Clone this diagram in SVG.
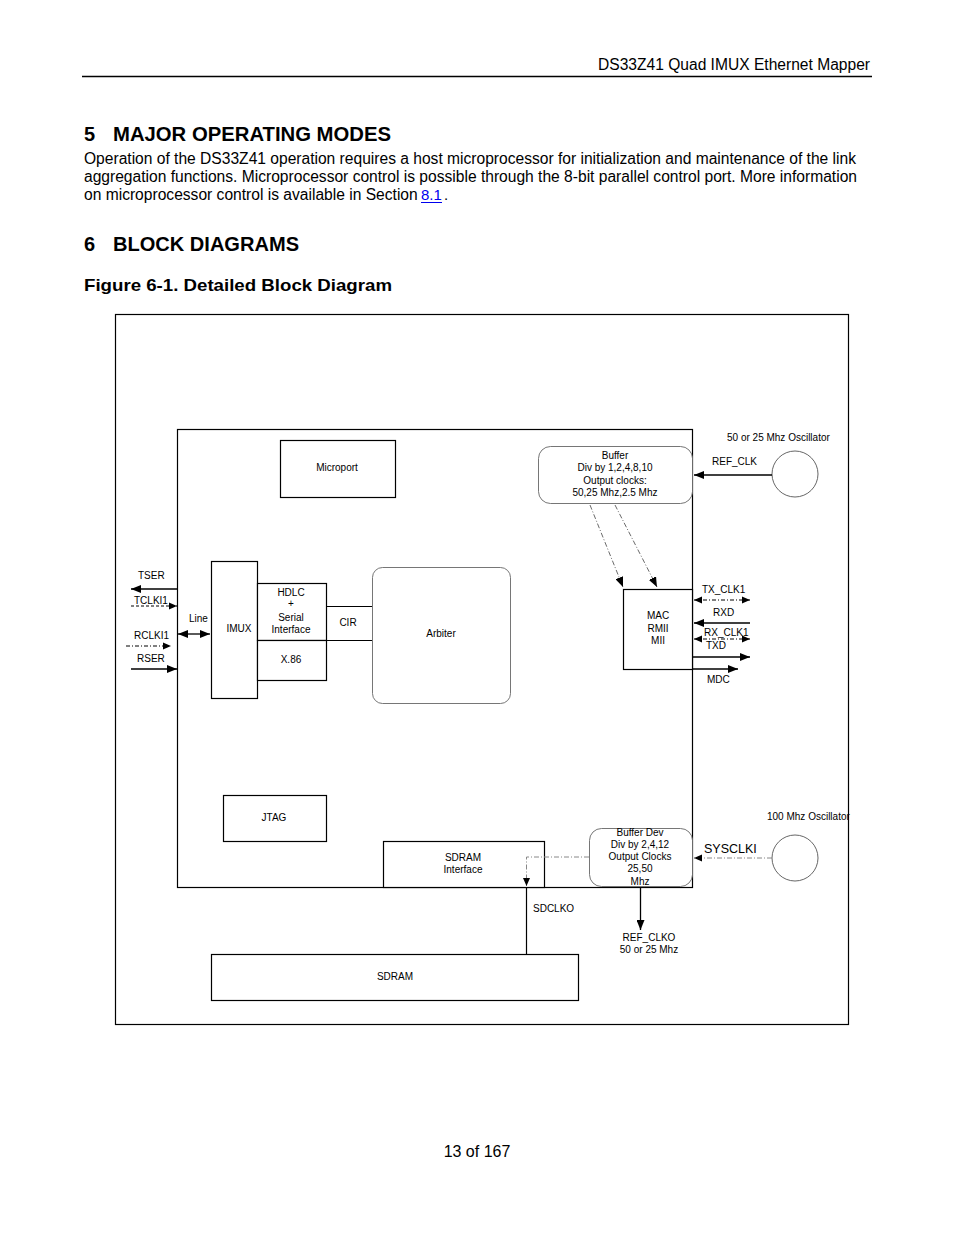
<svg xmlns="http://www.w3.org/2000/svg" width="954" height="1235" viewBox="0 0 954 1235">
<style>
.t{font-family:"Liberation Sans",Arial,sans-serif;fill:#000}
.s{font-size:10px;text-anchor:middle}
.sl{font-size:10px}
.b{fill:none;stroke:#000;stroke-width:1.2}
.w{fill:#fff;stroke:#000;stroke-width:1.2}
.r{fill:#fff;stroke:#666;stroke-width:0.9}
.ln{fill:none;stroke:#000;stroke-width:1.3}
.dd{fill:none;stroke:#000;stroke-width:1;stroke-dasharray:4 2 1 2}
.dg{fill:none;stroke:#888;stroke-width:1;stroke-dasharray:5 2 1 2}
.dm{fill:none;stroke:#444;stroke-width:0.8;stroke-dasharray:5 2 1 2}
</style>
<defs>
<marker id="ah" markerUnits="userSpaceOnUse" markerWidth="11" markerHeight="8" refX="10" refY="4" orient="auto-start-reverse"><path d="M0,0 L10,4 L0,8 Z" fill="#000"/></marker>
<marker id="as" markerUnits="userSpaceOnUse" markerWidth="9" markerHeight="8" refX="8" refY="4" orient="auto-start-reverse"><path d="M0,0.5 L8,4 L0,7.5 Z" fill="#000"/></marker>
</defs>
<rect width="954" height="1235" fill="#fff"/>
<!-- page header -->
<g id="page-header">
<text class="t" x="870" y="70" font-size="16" text-anchor="end" textLength="272" lengthAdjust="spacingAndGlyphs">DS33Z41 Quad IMUX Ethernet Mapper</text>
<line x1="82" y1="76.5" x2="872" y2="76.5" stroke="#000" stroke-width="1.3"/>
<text class="t" x="84" y="141" font-size="20" font-weight="bold">5</text>
<text class="t" x="113" y="141" font-size="20" font-weight="bold" textLength="278" lengthAdjust="spacingAndGlyphs">MAJOR OPERATING MODES</text>
<text class="t" x="84" y="164" font-size="16" textLength="772" lengthAdjust="spacingAndGlyphs">Operation of the DS33Z41 operation requires a host microprocessor for initialization and maintenance of the link</text>
<text class="t" x="84" y="182" font-size="16" textLength="773" lengthAdjust="spacingAndGlyphs">aggregation functions. Microprocessor control is possible through the 8-bit parallel control port. More information</text>
<text class="t" x="84" y="200" font-size="15.6">on microprocessor control is available in Section</text>
<text class="t" x="421" y="200" font-size="15" style="fill:#0000ee">8.1</text>
<line x1="421" y1="202.5" x2="442" y2="202.5" stroke="#0000ee" stroke-width="1"/>
<text class="t" x="444" y="200" font-size="15">.</text>
<text class="t" x="84" y="251" font-size="20" font-weight="bold">6</text>
<text class="t" x="113" y="251" font-size="20" font-weight="bold" textLength="186" lengthAdjust="spacingAndGlyphs">BLOCK DIAGRAMS</text>
<text class="t" x="84" y="291" font-size="17" font-weight="bold" textLength="308" lengthAdjust="spacingAndGlyphs">Figure 6-1. Detailed Block Diagram</text>
<text class="t" x="477" y="1157" font-size="16" text-anchor="middle">13 of 167</text>
</g>
<!-- frames -->
<g id="frame"><rect x="115.5" y="314.5" width="733" height="710" class="b"/></g>
<g id="chip"><rect x="177.5" y="429.5" width="515" height="458" class="b"/></g>
<!-- nodes -->
<g id="microport"><rect x="280.5" y="440.5" width="115" height="57" class="w"/><text class="t s" x="337" y="471">Microport</text></g>
<g id="buffer"><rect x="538.5" y="446.5" width="154" height="57" rx="12" class="r"/>
<text class="t s" x="615" y="459">Buffer</text><text class="t s" x="615" y="471">Div by 1,2,4,8,10</text><text class="t s" x="615" y="484">Output clocks:</text><text class="t s" x="615" y="496">50,25 Mhz,2.5 Mhz</text></g>
<g id="osc50"><circle cx="795" cy="474" r="23" fill="#fff" stroke="#555" stroke-width="0.9"/>
<text class="t sl" x="727" y="441">50 or 25  Mhz Oscillator</text><text class="t sl" x="712" y="465">REF_CLK</text></g>
<g id="mac"><rect x="623.5" y="589.5" width="69" height="80" class="w"/>
<text class="t s" x="658" y="619">MAC</text><text class="t s" x="658" y="632">RMII</text><text class="t s" x="658" y="644">MII</text></g>
<g id="mac-labels">
<text class="t sl" x="702" y="593">TX_CLK1</text><text class="t sl" x="713" y="616">RXD</text><text class="t sl" x="704" y="636">RX_CLK1</text><text class="t sl" x="706" y="649">TXD</text><text class="t sl" x="707" y="683">MDC</text></g>
<g id="left-labels">
<text class="t sl" x="138" y="579">TSER</text><text class="t sl" x="134" y="604">TCLKI1</text><text class="t sl" x="189" y="622">Line</text><text class="t sl" x="134" y="639">RCLKI1</text><text class="t sl" x="137" y="662">RSER</text></g>
<g id="imux"><rect x="211.5" y="561.5" width="46" height="137" class="w"/><text class="t s" x="239" y="632">IMUX</text></g>
<g id="hdlc"><rect x="257.5" y="583.5" width="69" height="57" class="w"/>
<text class="t s" x="291" y="596">HDLC</text><text class="t s" x="291" y="607">+</text><text class="t s" x="291" y="621">Serial</text><text class="t s" x="291" y="633">Interface</text></g>
<g id="x86"><rect x="257.5" y="640.5" width="69" height="40" class="w"/><text class="t s" x="291" y="663">X.86</text></g>
<g id="cir"><text class="t s" x="348" y="626">CIR</text></g>
<g id="arbiter"><rect x="372.5" y="567.5" width="138" height="136" rx="10" class="r"/><text class="t s" x="441" y="637">Arbiter</text></g>
<g id="jtag"><rect x="223.5" y="795.5" width="103" height="46" class="w"/><text class="t s" x="274" y="821">JTAG</text></g>
<g id="sdram-if"><rect x="383.5" y="841.5" width="161" height="46" class="w"/><text class="t s" x="463" y="861">SDRAM</text><text class="t s" x="463" y="873">Interface</text></g>
<g id="buffer-dev"><rect x="589.5" y="828.5" width="103" height="58" rx="12" class="r"/>
<text class="t s" x="640" y="836">Buffer Dev</text><text class="t s" x="640" y="848">Div by 2,4,12</text><text class="t s" x="640" y="860">Output Clocks</text><text class="t s" x="640" y="872">25,50</text><text class="t s" x="640" y="885">Mhz</text></g>
<g id="osc100"><circle cx="795" cy="858" r="23" fill="#fff" stroke="#555" stroke-width="0.9"/>
<text class="t sl" x="767" y="820">100 Mhz Oscillator</text><text class="t" x="704" y="853" font-size="12.5">SYSCLKI</text></g>
<g id="clk-labels"><text class="t sl" x="533" y="912">SDCLKO</text><text class="t s" x="649" y="941">REF_CLKO</text><text class="t s" x="649" y="953">50 or 25 Mhz</text></g>
<g id="sdram"><rect x="211.5" y="954.5" width="367" height="46" class="w"/><text class="t s" x="395" y="980">SDRAM</text></g>
<!-- connectors -->
<g id="connectors">
<line x1="772" y1="475" x2="694" y2="475" class="ln" marker-end="url(#ah)"/>
<line x1="590" y1="505" x2="623" y2="587" class="dm" marker-end="url(#ah)"/>
<line x1="615" y1="505" x2="657" y2="587" class="dm" marker-end="url(#ah)"/>
<line x1="694" y1="600" x2="750" y2="600" class="dd" marker-start="url(#as)" marker-end="url(#as)"/>
<line x1="750" y1="623" x2="694" y2="623" class="ln" marker-end="url(#ah)"/>
<line x1="694" y1="639" x2="750" y2="639" class="dd" marker-start="url(#as)" marker-end="url(#as)"/>
<line x1="693" y1="657" x2="750" y2="657" class="ln" marker-end="url(#ah)"/>
<line x1="692" y1="669" x2="738" y2="669" class="ln" marker-end="url(#ah)"/>
<line x1="177" y1="589" x2="131" y2="589" class="ln" marker-end="url(#ah)"/>
<line x1="131" y1="606" x2="177" y2="606" class="dd" style="stroke-dasharray:3 2" marker-end="url(#as)"/>
<line x1="178" y1="634" x2="210" y2="634" class="ln" marker-start="url(#ah)" marker-end="url(#ah)"/>
<line x1="126" y1="646" x2="171" y2="646" class="dd" marker-end="url(#as)"/>
<line x1="131" y1="669" x2="177" y2="669" class="ln" marker-end="url(#ah)"/>
<line x1="326" y1="606.5" x2="372" y2="606.5" class="b"/>
<line x1="326" y1="640.5" x2="372" y2="640.5" class="b"/>
<line x1="772" y1="858" x2="694" y2="858" class="dg" marker-end="url(#as)"/>
<polyline points="589,857 526.5,857 526.5,886" class="dg" marker-end="url(#as)"/>
<line x1="526.5" y1="887" x2="526.5" y2="954" class="b"/>
<line x1="640.5" y1="887" x2="640.5" y2="930" class="ln" marker-end="url(#ah)"/>
</g>
</svg>
